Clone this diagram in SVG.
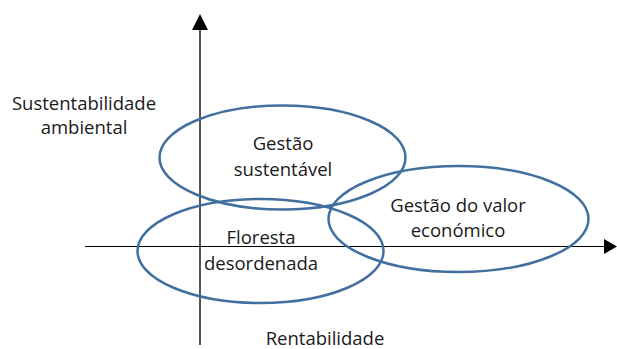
<svg xmlns="http://www.w3.org/2000/svg" width="617" height="349" viewBox="0 0 617 349">
<style>
.t{font-family:"Open Sans","Noto Sans",sans-serif;font-size:18.5px;fill:#1a1a1a;text-anchor:middle}
.e{fill:none;stroke:#41709f;stroke-width:2.5}
</style>
<rect width="617" height="349" fill="#fff"/>
<g id="connectors">
<line x1="200" y1="28" x2="200" y2="345" stroke="#555" stroke-width="2"/>
<polygon points="200,14 192,30 208,30" fill="#000"/>
<line x1="85" y1="246.5" x2="606" y2="246.5" stroke="#000" stroke-width="1.2"/>
<polygon points="617,246.5 604,239 604,254" fill="#000"/>
</g>
<g id="axis-y-label"><text class="t" x="84" y="110">Sustentabilidade</text><text class="t" x="84" y="134">ambiental</text></g>
<g id="axis-x-label"><text class="t" x="325" y="345">Rentabilidade</text></g>
<g id="sustentavel"><ellipse class="e" cx="282.5" cy="157.5" rx="123" ry="52"/><text class="t" x="283" y="150">Gestão</text><text class="t" x="283" y="176">sustentável</text></g>
<g id="floresta"><ellipse class="e" cx="260.5" cy="251" rx="123" ry="52"/><text class="t" x="261" y="244">Floresta</text><text class="t" x="261" y="270">desordenada</text></g>
<g id="economico"><ellipse class="e" cx="458.5" cy="219" rx="130" ry="53"/><text class="t" x="458" y="212">Gestão do valor</text><text class="t" x="458" y="237">económico</text></g>
</svg>
